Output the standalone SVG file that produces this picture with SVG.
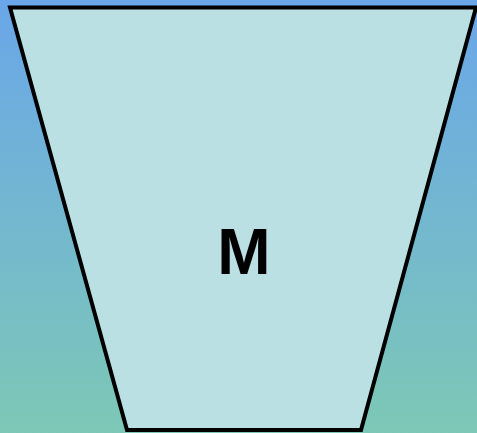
<svg xmlns="http://www.w3.org/2000/svg" width="477" height="433" viewBox="0 0 477 433">
<defs>
<linearGradient id="bg" x1="0" y1="0" x2="0" y2="1">
<stop offset="0" stop-color="#6aa6e9"/>
<stop offset="1" stop-color="#7dc8b6"/>
</linearGradient>
<style>
.shape{fill:#bae0e3;stroke:#000;stroke-width:4;stroke-linejoin:miter}
.lbl{font-family:"Liberation Sans",Arial,sans-serif;font-weight:bold;font-size:64px;fill:#000;text-anchor:middle}
</style>
</defs>
<rect width="477" height="433" fill="url(#bg)"/>
<g id="node-M">
<polygon class="shape" points="10,7.5 476,7.5 361,430 127,430"/>
<text class="lbl" x="244" y="274">M</text>
</g>
<g id="connectors"/>
</svg>
